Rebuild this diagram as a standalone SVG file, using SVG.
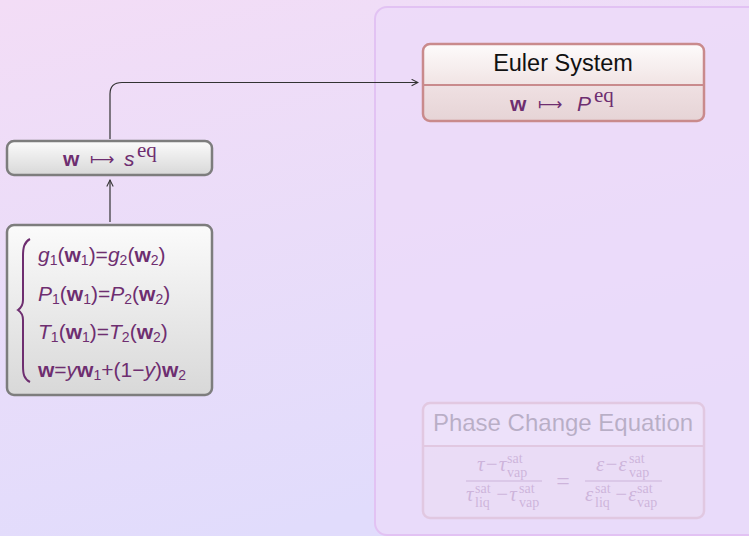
<svg xmlns="http://www.w3.org/2000/svg" width="749" height="536" viewBox="0 0 749 536">
<defs>
<linearGradient id="bg" x1="0" y1="0" x2="0.35" y2="1">
<stop offset="0" stop-color="#f3ddf6"/>
<stop offset="1" stop-color="#e1dcfc"/>
</linearGradient>
<linearGradient id="gray" x1="0" y1="0" x2="0" y2="1">
<stop offset="0" stop-color="#fbfbfb"/>
<stop offset="1" stop-color="#d8d8d8"/>
</linearGradient>
<linearGradient id="hdr" x1="0" y1="0" x2="0" y2="1">
<stop offset="0" stop-color="#fdfbfb"/>
<stop offset="1" stop-color="#f1e4e4"/>
</linearGradient>
<linearGradient id="body" x1="0" y1="0" x2="0" y2="1">
<stop offset="0" stop-color="#efe0e2"/>
<stop offset="1" stop-color="#e6d4d6"/>
</linearGradient>
<marker id="arr" viewBox="0 0 10 10" refX="9" refY="5" markerWidth="8" markerHeight="8" markerUnits="userSpaceOnUse" orient="auto">
<path d="M1,1 L9,5 L1,9" fill="none" stroke="#333" stroke-width="1.3"/>
</marker>
<style>
.m{font-family:"Liberation Sans",Arial,sans-serif;fill:#6e2e70;font-size:21px}
.it{font-style:italic}
.b{font-weight:bold}
.s{font-size:14px}
.sr{font-family:"Liberation Serif","Times New Roman",serif}
.mt{font-family:"DejaVu Sans",sans-serif;fill:#6e2e70;font-size:17px}
.conn{fill:none;stroke:#333;stroke-width:1.2}
.graybox{fill:url(#gray);stroke:#7d7d7d;stroke-width:2.5}
.title{font-family:"Liberation Sans",Arial,sans-serif;font-size:23.5px;fill:#111}
.f{font-family:"Liberation Serif","Times New Roman",serif;fill:#6e2e70}
.fv{font-size:21px;font-style:italic}
.fs{font-size:14px}
</style>
</defs>
<rect x="0" y="0" width="749" height="536" fill="url(#bg)"/>
<rect id="panel" x="375" y="7" width="400" height="528" rx="12" fill="#eddafa" fill-opacity="0.7" stroke="#e2c2f3" stroke-width="2"/>

<g id="connectors">
<path class="conn" d="M110,139 V94 Q110,82.5 122,82.5 H418" marker-end="url(#arr)"/>
<path class="conn" d="M110,222 V180" marker-end="url(#arr)"/>
</g>

<g id="euler">
<path d="M423,85 V51 Q423,44 430,44 H697 Q704,44 704,51 V85 Z" fill="url(#hdr)"/>
<path d="M423,85 H704 V114 Q704,121 697,121 H430 Q423,121 423,114 Z" fill="url(#body)"/>
<rect x="423" y="44" width="281" height="77" rx="7" fill="none" stroke="#c98a8c" stroke-width="2.5"/>
<line x1="423" y1="85" x2="704" y2="85" stroke="#c98a8c" stroke-width="2"/>
<text class="title" x="563" y="71" text-anchor="middle">Euler System</text>
<text class="m b" x="510" y="111">w</text>
<text class="mt" x="538" y="110">⟼</text>
<text class="m it" x="577" y="111" font-size="24">P</text>
<text class="m sr" x="594" y="102" font-size="17">eq</text>
</g>

<g id="seq">
<rect class="graybox" x="7" y="141" width="205" height="34" rx="7"/>
<text class="m b" x="63" y="166">w</text>
<text class="mt" x="90" y="165">⟼</text>
<text class="m it" x="124" y="166" font-size="24">s</text>
<text class="m sr" x="137" y="157" font-size="17">eq</text>
</g>

<g id="system">
<rect class="graybox" x="7" y="225" width="205" height="170" rx="7"/>
<path d="M30,239 C24,242 23,248 23,256 V300 C23,305 21,308 18,310 C21,312 23,315 23,320 V366 C23,374 24,379 30,382" fill="none" stroke="#6e2e70" stroke-width="2"/>
<text class="m" x="38" y="262"><tspan class="it">g</tspan><tspan class="s" dy="3">1</tspan><tspan dy="-3">(</tspan><tspan class="b">w</tspan><tspan class="s" dy="3">1</tspan><tspan dy="-3">)=</tspan><tspan class="it">g</tspan><tspan class="s" dy="3">2</tspan><tspan dy="-3">(</tspan><tspan class="b">w</tspan><tspan class="s" dy="3">2</tspan><tspan dy="-3">)</tspan></text>
<text class="m" x="38" y="301"><tspan class="it">P</tspan><tspan class="s" dy="3">1</tspan><tspan dy="-3">(</tspan><tspan class="b">w</tspan><tspan class="s" dy="3">1</tspan><tspan dy="-3">)=</tspan><tspan class="it">P</tspan><tspan class="s" dy="3">2</tspan><tspan dy="-3">(</tspan><tspan class="b">w</tspan><tspan class="s" dy="3">2</tspan><tspan dy="-3">)</tspan></text>
<text class="m" x="38" y="339"><tspan class="it">T</tspan><tspan class="s" dy="3">1</tspan><tspan dy="-3">(</tspan><tspan class="b">w</tspan><tspan class="s" dy="3">1</tspan><tspan dy="-3">)=</tspan><tspan class="it">T</tspan><tspan class="s" dy="3">2</tspan><tspan dy="-3">(</tspan><tspan class="b">w</tspan><tspan class="s" dy="3">2</tspan><tspan dy="-3">)</tspan></text>
<text class="m" x="38" y="377"><tspan class="b">w</tspan><tspan>=</tspan><tspan class="it">y</tspan><tspan class="b">w</tspan><tspan class="s" dy="3">1</tspan><tspan dy="-3">+(1−</tspan><tspan class="it">y</tspan><tspan>)</tspan><tspan class="b">w</tspan><tspan class="s" dy="3">2</tspan></text>
</g>

<g id="phase" opacity="0.22">
<path d="M423,446 V410 Q423,403 430,403 H697 Q704,403 704,410 V446 Z" fill="#fbf8fb"/>
<path d="M423,446 H704 V511 Q704,518 697,518 H430 Q423,518 423,511 Z" fill="#efe2ea"/>
<rect x="423" y="403" width="281" height="115" rx="7" fill="none" stroke="#c98a8c" stroke-width="2.5"/>
<line x1="423" y1="446" x2="704" y2="446" stroke="#c98a8c" stroke-width="2"/>
<text x="563" y="431" text-anchor="middle" font-family="Liberation Sans,Arial,sans-serif" font-size="24" fill="#111">Phase Change Equation</text>
<g class="f">
<text class="fv" x="477" y="471">τ−τ</text>
<text class="fs" x="507" y="463">sat</text>
<text class="fs" x="507" y="477">vap</text>
<line x1="466" y1="481" x2="542" y2="481" stroke="#6e2e70" stroke-width="1.2"/>
<text class="fv" x="466" y="501">τ</text>
<text class="fs" x="475" y="493">sat</text>
<text class="fs" x="475" y="507">liq</text>
<text class="fv" x="495" y="501">−τ</text>
<text class="fs" x="519" y="493">sat</text>
<text class="fs" x="519" y="507">vap</text>
<text x="563" y="489" text-anchor="middle" font-size="24">=</text>
<text class="fv" x="596" y="471">ε−ε</text>
<text class="fs" x="629" y="463">sat</text>
<text class="fs" x="629" y="477">vap</text>
<line x1="585" y1="481" x2="662" y2="481" stroke="#6e2e70" stroke-width="1.2"/>
<text class="fv" x="585" y="501">ε</text>
<text class="fs" x="595" y="493">sat</text>
<text class="fs" x="595" y="507">liq</text>
<text class="fv" x="614" y="501">−ε</text>
<text class="fs" x="637" y="493">sat</text>
<text class="fs" x="637" y="507">vap</text>
</g>
</g>
</svg>
